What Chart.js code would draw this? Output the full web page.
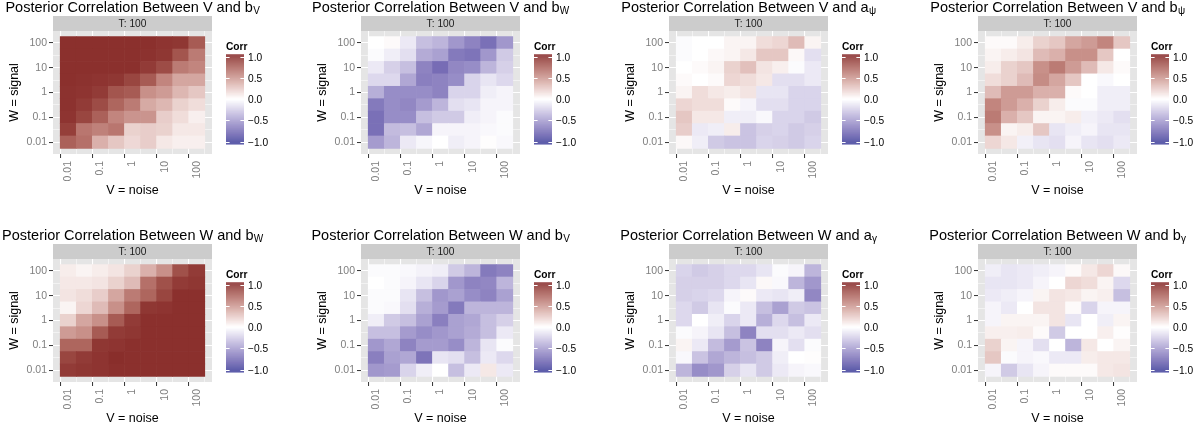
<!DOCTYPE html>
<html>
<head>
<meta charset="utf-8">
<script src="https://cdn.jsdelivr.net/npm/chart.js@4.4.0/dist/chart.umd.min.js"></script>
<style>
  body { margin: 0; background: #fff; overflow: hidden; }
  #wrap { position: relative; width: 1202px; height: 431px; overflow: hidden; }
  #wrap canvas { position: absolute; }
</style>
</head>
<body>
<div id="wrap"></div>
<script>
// grid levels (columns = V noise, rows = W signal, listed top to bottom)
const noiseLevels = [0.01, 0.031623, 0.1, 0.31623, 1, 3.1623, 10, 31.623, 100];
const signalLevels = [100, 31.623, 10, 3.1623, 1, 0.31623, 0.1, 0.031623, 0.01];
const tickValues = [0.01, 0.1, 1, 10, 100];
const tickLabels = ['0.01', '0.1', '1', '10', '100'];
const legendBreaks = [1, 0.5, 0, -0.5, -1];
const legendLabels = ['1.0', '0.5', '0.0', '\u22120.5', '\u22121.0'];
const stripLabel = 'T: 100';

const titleMain = [
  'Posterior Correlation Between V and b', 'Posterior Correlation Between V and b',
  'Posterior Correlation Between V and a', 'Posterior Correlation Between V and b',
  'Posterior Correlation Between W and b', 'Posterior Correlation Between W and b',
  'Posterior Correlation Between W and a', 'Posterior Correlation Between W and b'
];
const titleSub = ['V', 'W', '\u03c8', '\u03c8', 'W', 'V', '\u03b3', '\u03b3'];

// posterior correlations, one row per signal level (top = 100)
const corrVbV = [
  [.95, .95, .95, .95, .95, .95, .93, .92, .75],
  [.95, .95, .95, .95, .95, .94, .92, .78, .60],
  [.95, .95, .95, .95, .95, .90, .82, .60, .55],
  [.95, .94, .93, .92, .85, .75, .55, .40, .40],
  [.94, .93, .90, .78, .75, .50, .45, .32, .25],
  [.94, .90, .82, .70, .60, .38, .32, .20, .15],
  [.93, .85, .72, .55, .48, .48, .22, .15, .07],
  [.88, .62, .57, .62, .20, .22, .20, .10, .10],
  [.72, .65, .35, .25, .17, .22, .10, .07, .07]
];
const corrVbW = [
  [.00, .02, -.10, -.30, -.35, -.50, -.60, -.70, -.50],
  [-.02, -.08, -.15, -.40, -.45, -.65, -.68, -.50, -.25],
  [-.10, -.22, -.30, -.60, -.72, -.58, -.55, -.35, -.22],
  [-.18, -.18, -.42, -.62, -.60, -.55, -.20, -.12, -.18],
  [-.38, -.55, -.55, -.55, -.60, -.20, -.20, -.08, -.05],
  [-.65, -.55, -.58, -.48, -.35, -.15, -.12, -.05, -.05],
  [-.70, -.55, -.55, -.30, -.25, -.25, -.08, -.05, -.02],
  [-.70, -.32, -.30, -.42, -.05, -.05, -.05, -.03, -.02],
  [-.48, -.35, -.10, -.04, .00, -.08, -.05, .01, -.03]
];
const corrVaPsi = [
  [-.02, .00, .00, .05, .05, .15, .18, .30, .05],
  [-.02, .00, .03, .05, .10, .25, .25, .03, -.15],
  [.00, .02, .05, .20, .28, .12, .07, -.02, -.10],
  [.02, .00, .02, .18, .15, .10, -.15, -.15, -.10],
  [.05, .15, .10, .08, .12, -.12, -.12, -.20, -.20],
  [.18, .15, .15, .02, -.05, -.15, -.15, -.20, -.20],
  [.25, .10, .10, -.08, -.08, -.03, -.20, -.20, -.25],
  [.22, -.10, -.08, .08, -.28, -.22, -.20, -.25, -.22],
  [.03, -.08, -.25, -.28, -.28, -.20, -.22, -.25, -.20]
];
const corrVbPsi = [
  [.02, .02, .08, .20, .25, .40, .45, .55, .25],
  [.05, .08, .12, .30, .35, .50, .50, .25, .00],
  [.08, .20, .25, .50, .60, .45, .30, .10, .02],
  [.15, .20, .30, .52, .40, .25, .00, -.03, .00],
  [.30, .45, .45, .35, .35, .02, .00, -.08, -.08],
  [.55, .45, .35, .20, .08, -.02, -.02, -.08, -.08],
  [.60, .35, .25, .05, .05, .08, -.07, -.10, -.15],
  [.50, .05, .08, .25, -.12, -.08, -.05, -.12, -.12],
  [.18, .10, -.07, -.12, -.15, -.05, -.12, -.15, -.10]
];
const corrWbW = [
  [.08, .05, .08, .12, .20, .35, .50, .80, .90],
  [.10, .10, .12, .20, .30, .65, .80, .90, .92],
  [.12, .15, .22, .40, .60, .70, .85, .95, .95],
  [.05, .18, .30, .50, .70, .92, .93, .95, .95],
  [.20, .40, .50, .75, .90, .95, .95, .95, .95],
  [.45, .50, .75, .90, .92, .95, .95, .95, .95],
  [.70, .70, .92, .93, .95, .95, .95, .95, .95],
  [.85, .90, .93, .96, .95, .95, .95, .95, .95],
  [.90, .92, .93, .95, .95, .95, .95, .95, .95]
];
const corrWbV = [
  [-.02, -.02, -.03, -.06, -.08, -.25, -.35, -.65, -.60],
  [.00, -.02, -.05, -.12, -.20, -.50, -.60, -.58, -.35],
  [-.02, -.02, -.12, -.30, -.50, -.45, -.55, -.60, -.45],
  [-.02, -.03, -.15, -.38, -.48, -.65, -.35, -.35, -.35],
  [-.08, -.25, -.30, -.45, -.62, -.45, -.42, -.30, -.22],
  [-.30, -.30, -.48, -.55, -.50, -.45, -.40, -.30, -.10],
  [-.50, -.42, -.60, -.48, -.48, -.55, -.35, -.12, -.02],
  [-.62, -.45, -.42, -.68, -.12, -.15, -.30, -.10, -.18],
  [-.50, -.48, -.20, -.08, .00, -.30, -.10, .10, -.10]
];
const corrWaGamma = [
  [-.20, -.25, -.22, -.18, -.18, -.12, -.02, -.05, -.35],
  [-.22, -.22, -.22, -.18, -.12, .03, -.03, -.35, -.50],
  [-.22, -.20, -.18, -.05, .02, -.10, -.12, -.08, -.58],
  [-.18, -.25, -.12, -.02, -.10, -.30, -.45, -.25, -.28],
  [-.18, .00, -.08, -.20, -.10, -.38, -.18, -.30, -.10],
  [-.02, -.05, -.12, -.30, -.60, -.15, -.15, -.10, -.15],
  [.05, -.10, -.32, -.48, -.28, -.60, -.05, -.15, -.02],
  [-.03, -.28, -.42, -.35, -.30, -.25, -.08, .00, .01],
  [-.35, -.55, -.50, -.22, -.12, -.25, -.10, -.05, -.03]
];
const corrWbGamma = [
  [-.08, -.12, -.10, -.08, -.05, .02, .10, .18, .03],
  [-.12, -.12, -.10, -.05, .00, .18, .15, .05, -.18],
  [-.10, -.08, -.05, .05, .12, .10, .05, .07, -.30],
  [-.05, -.10, .00, .12, .12, .02, -.20, -.05, -.05],
  [-.05, .05, .05, .05, .12, -.12, .00, -.08, .05],
  [.07, .07, .08, .02, -.25, .00, .00, .07, .01],
  [.20, .05, -.05, -.15, .00, -.35, .10, .00, .05],
  [.25, -.02, -.05, -.03, -.10, -.10, .08, .10, .10],
  [-.05, -.25, -.12, -.05, .02, .02, .02, .10, .12]
];
const panelData = [corrVbV, corrVbW, corrVaPsi, corrVbPsi, corrWbW, corrWbV, corrWaGamma, corrWbGamma];

// ---- colour scale: gradient2 (muted blue - white - muted red), Lab interpolation
const LOW = '#3A3A98', MID = '#FFFFFF', HIGH = '#832424';

function hexToRgb(h) {
  return [1, 3, 5].map(i => parseInt(h.substr(i, 2), 16));
}
function toLab(rgb) {
  const lin = rgb.map(c => { c /= 255; return c <= 0.04045 ? c / 12.92 : Math.pow((c + 0.055) / 1.055, 2.4); });
  let x = (0.4124 * lin[0] + 0.3576 * lin[1] + 0.1805 * lin[2]) / 0.95047;
  let y = 0.2126 * lin[0] + 0.7152 * lin[1] + 0.0722 * lin[2];
  let z = (0.0193 * lin[0] + 0.1192 * lin[1] + 0.9505 * lin[2]) / 1.08883;
  const f = t => t > 0.008856 ? Math.cbrt(t) : 7.787 * t + 16 / 116;
  const fx = f(x), fy = f(y), fz = f(z);
  return [116 * fy - 16, 500 * (fx - fy), 200 * (fy - fz)];
}
function fromLab(lab) {
  const fy = (lab[0] + 16) / 116, fx = fy + lab[1] / 500, fz = fy - lab[2] / 200;
  const inv = t => t * t * t > 0.008856 ? t * t * t : (t - 16 / 116) / 7.787;
  const x = inv(fx) * 0.95047, y = inv(fy), z = inv(fz) * 1.08883;
  const lin = [
    3.2406 * x - 1.5372 * y - 0.4986 * z,
    -0.9689 * x + 1.8758 * y + 0.0415 * z,
    0.0557 * x - 0.2040 * y + 1.0570 * z
  ];
  return lin.map(c => {
    c = c <= 0.0031308 ? 12.92 * c : 1.055 * Math.pow(c, 1 / 2.4) - 0.055;
    return Math.round(Math.min(1, Math.max(0, c)) * 255);
  });
}
const labLow = toLab(hexToRgb(LOW)), labMid = toLab(hexToRgb(MID)), labHigh = toLab(hexToRgb(HIGH));
function corrColor(v) {
  v = Math.max(-1, Math.min(1, v));
  const end = v >= 0 ? labHigh : labLow, t = Math.abs(v);
  const lab = labMid.map((m, i) => m + (end[i] - m) * t);
  const c = fromLab(lab);
  return `rgb(${c[0]},${c[1]},${c[2]})`;
}

// ---- layout
const FONT = '"Liberation Sans", Arial, sans-serif';
const W = 308, H = 228;
const colLeft = [0, 308, 616, 925];
const rowTop = [0, 228];

const gridPositions = noiseLevels.map(v => Math.log10(v));
function tickText(value) {
  const i = tickValues.findIndex(t => Math.abs(Math.log10(t) - value) < 1e-3);
  return i >= 0 ? tickLabels[i] : '';
}
function isMajor(value) {
  return tickText(value) !== '';
}

const decor = {
  id: 'decor',
  beforeDraw(chart) {
    const { ctx, chartArea: ca } = chart;
    const idx = chart.options.plugins.decor.index;
    ctx.save();
    // panel background
    ctx.fillStyle = '#E5E5E5';
    ctx.fillRect(ca.left, ca.top, ca.right - ca.left, ca.bottom - ca.top);
    // facet strip
    ctx.fillStyle = '#CCCCCC';
    ctx.fillRect(ca.left, 16, ca.right - ca.left, ca.top - 16);
    ctx.fillStyle = '#1A1A1A';
    ctx.font = '10.2px ' + FONT;
    ctx.textAlign = 'center';
    ctx.textBaseline = 'middle';
    ctx.fillText(stripLabel, (ca.left + ca.right) / 2, (16 + ca.top) / 2 + 0.5);
    // title with subscript
    const cx = (ca.left + ca.right) / 2;
    ctx.textAlign = 'left';
    ctx.textBaseline = 'alphabetic';
    ctx.fillStyle = '#000';
    ctx.font = '14.5px ' + FONT;
    const mw = ctx.measureText(titleMain[idx]).width;
    ctx.font = '10px ' + FONT;
    const sw = ctx.measureText(titleSub[idx]).width;
    const x0 = cx - (mw + sw) / 2;
    ctx.font = '14.5px ' + FONT;
    ctx.fillText(titleMain[idx], x0, 11.7);
    ctx.font = '10px ' + FONT;
    ctx.fillText(titleSub[idx], x0 + mw + 0.3, 14.2);
    ctx.restore();
  },
  afterDraw(chart) {
    const { ctx, chartArea: ca } = chart;
    ctx.save();
    const bx = ca.right + 14, bw = 18;
    const mid = 99.2, half = 42.5;
    const top = mid - 1.055 * half, bot = mid + 1.055 * half;
    for (let y = top; y < bot; y += 0.5) {
      const v = (mid - (y + 0.25)) / half;
      ctx.fillStyle = corrColor(v);
      ctx.fillRect(bx, y, bw, 0.6);
    }
    ctx.strokeStyle = '#FFFFFF';
    ctx.lineWidth = 1;
    ctx.font = '10.2px ' + FONT;
    ctx.textBaseline = 'middle';
    ctx.textAlign = 'left';
    legendBreaks.forEach((b, i) => {
      const y = Math.round(mid - b * half) + 0.5;
      ctx.beginPath();
      ctx.moveTo(bx, y); ctx.lineTo(bx + 3.6, y);
      ctx.moveTo(bx + bw - 3.6, y); ctx.lineTo(bx + bw, y);
      ctx.stroke();
      ctx.fillStyle = '#000';
      ctx.fillText(legendLabels[i], bx + bw + 4, y + 0.5);
    });
    ctx.font = 'bold 10.2px ' + FONT;
    ctx.textBaseline = 'alphabetic';
    ctx.fillText('Corr', bx, 50);
    ctx.restore();
  }
};

function axisOptions(titleText, isY) {
  return {
    type: 'linear',
    min: -2.475,
    max: 2.475,
    offset: false,
    afterBuildTicks(scale) {
      scale.ticks = gridPositions.map(v => ({ value: v }));
    },
    afterFit(scale) {
      if (isY) scale.width = 53; else scale.height = 74;
    },
    border: { display: false },
    grid: {
      color: '#FFFFFF',
      lineWidth: c => (c.tick && isMajor(c.tick.value)) ? 1.1 : 0.5,
      tickColor: c => (c.tick && isMajor(c.tick.value)) ? '#333333' : 'rgba(0,0,0,0)',
      tickLength: 4,
      tickWidth: 1,
      drawTicks: true
    },
    ticks: {
      autoSkip: false,
      padding: isY ? 2 : 3,
      color: '#7F7F7F',
      font: { family: FONT, size: 10.5 },
      minRotation: isY ? 0 : 90,
      maxRotation: isY ? 0 : 90,
      callback: v => tickText(v)
    },
    title: {
      display: true,
      text: titleText,
      color: '#000',
      font: { family: FONT, size: 12.5 },
      padding: isY ? { top: 7.5, bottom: 0 } : { top: 0, bottom: 30 }
    }
  };
}

const wrap = document.getElementById('wrap');
panelData.forEach((matrix, idx) => {
  const canvas = document.createElement('canvas');
  canvas.width = W;
  canvas.height = H;
  canvas.style.left = colLeft[idx % 4] + 'px';
  canvas.style.top = rowTop[Math.floor(idx / 4)] + 'px';
  wrap.appendChild(canvas);

  const points = [];
  const colors = [];
  signalLevels.forEach((w, r) => {
    noiseLevels.forEach((v, c) => {
      const yc = Math.log10(w);
      points.push({ x: Math.log10(v), y: [yc - 0.25, yc + 0.25] });
      colors.push(corrColor(matrix[r][c]));
    });
  });

  new Chart(canvas.getContext('2d'), {
    type: 'bar',
    data: {
      datasets: [{
        data: points,
        backgroundColor: colors,
        borderWidth: 0,
        barPercentage: 1,
        categoryPercentage: 1,
        grouped: false
      }]
    },
    options: {
      responsive: false,
      animation: false,
      events: [],
      layout: { padding: { left: 0, top: 31, right: W - 212, bottom: 0 } },
      scales: {
        x: axisOptions('V = noise', false),
        y: axisOptions('W = signal', true)
      },
      plugins: {
        legend: { display: false },
        tooltip: { enabled: false },
        decor: { index: idx }
      }
    },
    plugins: [decor]
  });
});
</script>
</body>
</html>
